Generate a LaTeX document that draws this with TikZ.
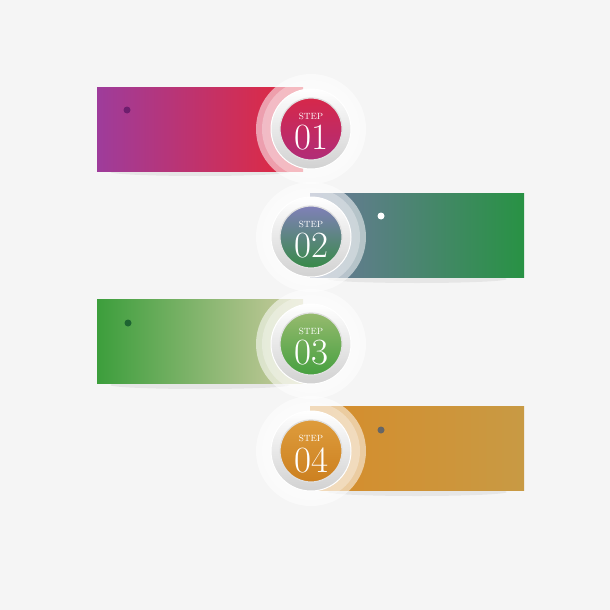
\documentclass[tikz,border=0pt]{standalone}
\usepackage{tikz}
\usetikzlibrary{positioning}
\definecolor{paper}{HTML}{F5F5F5}
\tikzset{
bar/.style={minimum height=84pt, inner sep=0pt, draw=none}, % coloured band behind each step
glow/.style={circle, minimum size=110pt, inner sep=0pt, fill=white, fill opacity=.55},
halo/.style={circle, minimum size=98pt, inner sep=0pt, fill=white, fill opacity=.3},
ring/.style={circle, minimum size=80pt, inner sep=0pt, top color=white, bottom color=black!18, draw=white, line width=1pt},
disc/.style={circle, minimum size=62pt, inner sep=0pt, draw=black!12, line width=1.2pt},
stepdot/.style={circle, minimum size=7pt, inner sep=0pt},
steplabel/.style={text=white, inner sep=0pt, font=\fontsize{9}{9}\selectfont},
stepnum/.style={text=white, inner sep=0pt, font=\fontsize{37}{37}\selectfont},
}

\begin{document}
\begin{tikzpicture}[x=1pt, y=-1pt]
\fill[paper] (0,0) rectangle (610,610);
% soft shadows under the bands
\fill[black, opacity=.06] (200,172) ellipse (90 and 4);
\fill[black, opacity=.06] (417,279) ellipse (90 and 4);
\fill[black, opacity=.06] (200,385) ellipse (90 and 4);
\fill[black, opacity=.06] (417,492) ellipse (90 and 4);
% bands
\node[bar, minimum width=206pt, left color={rgb,255:red,158;green,60;blue,155}, right color={rgb,255:red,228;green,40;blue,58}] at (200,129) (b1) {};
\node[bar, minimum width=214pt, left color={rgb,255:red,108;green,120;blue,156}, right color={rgb,255:red,40;green,146;blue,68}] at (417,235.5) (b2) {};
\node[bar, minimum width=206pt, left color={rgb,255:red,60;green,158;blue,60}, right color={rgb,255:red,205;green,204;blue,160}] at (200,341.5) (b3) {};
\node[bar, minimum width=214pt, left color={rgb,255:red,214;green,140;blue,42}, right color={rgb,255:red,200;green,154;blue,68}] at (417,448.5) (b4) {};
% dots
\node[stepdot, fill={rgb,255:red,110;green,30;blue,110}] at (127,110) (d1) {};
\node[stepdot, fill=white] at (381,216) (d2) {};
\node[stepdot, fill={rgb,255:red,30;green,100;blue,50}] at (128,323) (d3) {};
\node[stepdot, fill=black!60] at (381,430) (d4) {};
% buttons
\node[glow] at (311,129) (g1) {};
\node[halo] at (311,129) (h1) {};
\node[ring] at (311,129) (r1) {};
\node[disc, top color={rgb,255:red,214;green,40;blue,74}, bottom color={rgb,255:red,176;green,44;blue,120}] at (311,129) (c1) {};
\node[glow] at (311,237) (g2) {};
\node[halo] at (311,237) (h2) {};
\node[ring] at (311,237) (r2) {};
\node[disc, top color={rgb,255:red,128;green,128;blue,184}, bottom color={rgb,255:red,56;green,138;blue,72}] at (311,237) (c2) {};
\node[glow] at (311,344) (g3) {};
\node[halo] at (311,344) (h3) {};
\node[ring] at (311,344) (r3) {};
\node[disc, top color={rgb,255:red,150;green,186;blue,110}, bottom color={rgb,255:red,70;green,160;blue,64}] at (311,344) (c3) {};
\node[glow] at (311,451) (g4) {};
\node[halo] at (311,451) (h4) {};
\node[ring] at (311,451) (r4) {};
\node[disc, top color={rgb,255:red,222;green,156;blue,60}, bottom color={rgb,255:red,204;green,128;blue,32}] at (311,451) (c4) {};
% texts
\node[stepnum] at (311,138) (n1) {01};
\node[steplabel, above=5pt of n1] (s1) {STEP};
\node[stepnum] at (311,246) (n2) {02};
\node[steplabel, above=5pt of n2] (s2) {STEP};
\node[stepnum] at (311,353) (n3) {03};
\node[steplabel, above=5pt of n3] (s3) {STEP};
\node[stepnum] at (311,460) (n4) {04};
\node[steplabel, above=5pt of n4] (s4) {STEP};
\end{tikzpicture}
\end{document}
